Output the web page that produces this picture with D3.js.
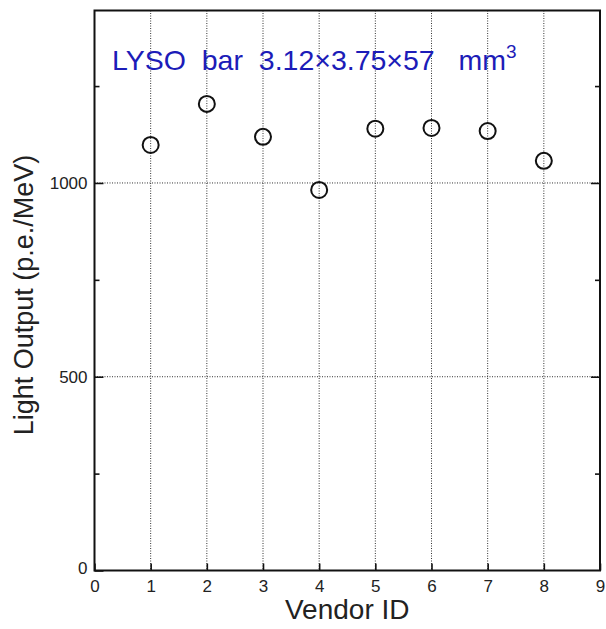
<!DOCTYPE html>
<html>
<head>
<meta charset="utf-8">
<script src="https://cdn.jsdelivr.net/npm/d3@7"></script>
<style>
  body { margin: 0; background: #fff; }
  text { font-family: "Liberation Sans", Arial, sans-serif; }
  .axis text { font-size: 17px; fill: #222; }
</style>
</head>
<body>
<svg id="chart"></svg>
<script>
const vendors = [1, 2, 3, 4, 5, 6, 7, 8];
const lightOutput = [1098, 1204, 1119, 982, 1140, 1142, 1134, 1057];
const xTicks = [0, 1, 2, 3, 4, 5, 6, 7, 8, 9];
const yLabelTicks = [0, 500, 1000];
const yMinorTicks = [250, 750, 1250];

const width = 606, height = 629;
const margin = { top: 10.5, right: 6, bottom: 58.5, left: 94.5 };
const w = width - margin.left - margin.right;
const h = height - margin.top - margin.bottom;

const svg = d3.select("#chart")
    .attr("width", width)
    .attr("height", height);

const g = svg.append("g")
    .attr("transform", `translate(${margin.left},${margin.top})`);

const x = d3.scaleLinear().domain([0, 9]).range([0, w]);
const y = d3.scaleLinear().domain([0, 1445]).range([h, 0]);

// dotted grid
g.selectAll(".vgrid")
    .data(xTicks.slice(1, -1))
    .enter().append("line")
    .attr("x1", d => x(d)).attr("x2", d => x(d))
    .attr("y1", 0).attr("y2", h)
    .attr("stroke", "#333").attr("stroke-width", 1)
    .attr("stroke-dasharray", "1,1.5");

g.selectAll(".hgrid")
    .data([500, 1000])
    .enter().append("line")
    .attr("x1", 0).attr("x2", w)
    .attr("y1", d => y(d)).attr("y2", d => y(d))
    .attr("stroke", "#333").attr("stroke-width", 1)
    .attr("stroke-dasharray", "1,1.5");

// axes (ticks drawn inward, mirrored on the right)
const xAxis = d3.axisBottom(x).tickValues(xTicks).tickSizeInner(-7).tickSizeOuter(0).tickPadding(9);
const xa = g.append("g").attr("class", "axis")
    .attr("transform", `translate(0,${h})`).call(xAxis)
    .attr("font-size", 17).attr("font-family", null);
xa.select(".domain").remove();

const yAxis = d3.axisLeft(y).tickValues(yLabelTicks).tickFormat(d3.format("d"))
    .tickSizeInner(-9).tickSizeOuter(0).tickPadding(7);
const ya = g.append("g").attr("class", "axis").call(yAxis)
    .attr("font-size", 17).attr("font-family", null);
ya.select(".domain").remove();
ya.selectAll(".tick").filter(d => d === 0).select("text").attr("dy", "0.2em");

g.append("g").call(d3.axisLeft(y).tickValues(yMinorTicks).tickSizeInner(-5).tickSizeOuter(0).tickFormat(""))
    .select(".domain").remove();
g.append("g").attr("transform", `translate(${w},0)`)
    .call(d3.axisRight(y).tickValues([500, 1000]).tickSizeInner(-9).tickSizeOuter(0).tickFormat(""))
    .select(".domain").remove();
g.append("g").attr("transform", `translate(${w},0)`)
    .call(d3.axisRight(y).tickValues(yMinorTicks).tickSizeInner(-5).tickSizeOuter(0).tickFormat(""))
    .select(".domain").remove();

g.selectAll(".tick line").attr("stroke", "#111").attr("stroke-width", 1.6);

// frame
g.append("rect")
    .attr("width", w).attr("height", h)
    .attr("fill", "none").attr("stroke", "#111").attr("stroke-width", 2);

// points
g.selectAll("circle")
    .data(vendors)
    .enter().append("circle")
    .attr("cx", d => x(d))
    .attr("cy", (d, i) => y(lightOutput[i]))
    .attr("r", 8)
    .attr("fill", "none")
    .attr("stroke", "#111")
    .attr("stroke-width", 2);

// title
const title = svg.append("text")
    .attr("x", 112).attr("y", 70)
    .style("font-size", "28.5px")
    .attr("fill", "#1c1cb8")
    .attr("xml:space", "preserve");
title.append("tspan").text("LYSO  bar  3.12×3.75×57   mm");
title.append("tspan").style("font-size", "19px").attr("dy", -12).text("3");

// axis labels
svg.append("text")
    .attr("x", margin.left + w / 2).attr("y", 619)
    .attr("text-anchor", "middle")
    .style("font-size", "28px").attr("fill", "#222")
    .text("Vendor ID");

svg.append("text")
    .attr("transform", `translate(33,295) rotate(-90)`)
    .attr("text-anchor", "middle")
    .style("font-size", "27px").attr("fill", "#222")
    .text("Light Output (p.e./MeV)");
</script>
</body>
</html>
